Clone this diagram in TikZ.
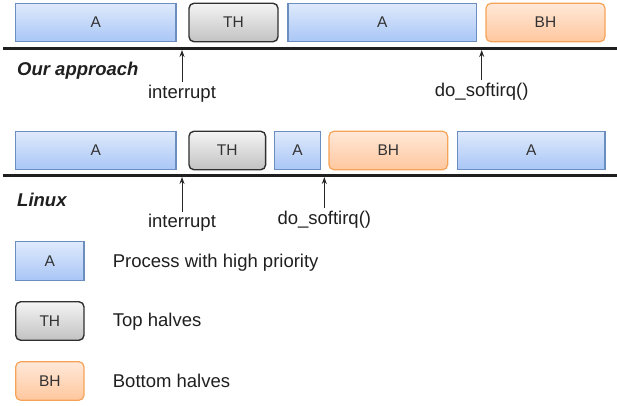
\documentclass[tikz,border=0pt]{standalone}
\usepackage{fontspec}
\setmainfont{Liberation Sans}
\usetikzlibrary{arrows.meta}
\definecolor{bluetop}{HTML}{DFEAFC}
\definecolor{bluebot}{HTML}{A9C6F6}
\definecolor{blueedge}{HTML}{6C8EBF}
\definecolor{graytop}{HTML}{F4F4F4}
\definecolor{graybot}{HTML}{C2C2C2}
\definecolor{grayedge}{HTML}{303030}
\definecolor{orgtop}{HTML}{FFE8D8}
\definecolor{orgbot}{HTML}{FFC79E}
\definecolor{orgedge}{HTML}{F5A357}
\definecolor{txt}{HTML}{333333}
\tikzset{
  boxbase/.style={inner sep=0pt, minimum height=38.5pt, font=\fontsize{15.5}{18}\selectfont, text=txt},
  abox/.style={boxbase, draw=blueedge, line width=1.2pt, top color=bluetop, bottom color=bluebot},
  thbox/.style={boxbase, draw=grayedge, line width=1.4pt, rounded corners=5pt, top color=graytop, bottom color=graybot},
  bhbox/.style={boxbase, draw=orgedge, line width=1.2pt, rounded corners=5pt, top color=orgtop, bottom color=orgbot},
  timeline/.style={line width=3pt, color=black!88},
  arr/.style={line width=1pt, -{Stealth[length=7pt,width=5pt]}, color=black!85},
  lbl/.style={font=\fontsize{18.5}{22}\selectfont, text=black!88, inner sep=2.5pt},
  ttl/.style={font=\fontsize{18.5}{22}\selectfont\bfseries\itshape, text=black!88, inner sep=0pt, anchor=west},
  leg/.style={font=\fontsize{18.5}{22}\selectfont, text=black!88, inner sep=0pt, anchor=west}
}
\begin{document}
\begin{tikzpicture}[x=1pt,y=-1pt]
\useasboundingbox (0,0) rectangle (617,405);
% top row
\node[abox, minimum width=160.3pt] (a1) at (95.85,22.5) {A};
\node[thbox, minimum width=89pt] (th1) at (233.5,22.5) {TH};
\node[abox, minimum width=188.7pt] (a2) at (382.3,22.5) {A};
\node[bhbox, minimum width=119pt] (bh1) at (545.5,22.5) {BH};
\coordinate (l1s) at (3,48.3);
\coordinate (l1e) at (617,48.3);
\draw[timeline] (l1s) -- (l1e);
\node[ttl] (our) at (17,71) {Our approach};
\coordinate (tip1) at (182,50);
\coordinate (tip2) at (481.7,50);
\node[lbl, anchor=north] (int1) at (182,82) {interrupt};
\node[lbl, anchor=north] (ds1) at (481.7,80) {do\_softirq()};
\draw[arr] (int1.north) -- (tip1);
\draw[arr] (ds1.north) -- (tip2);
% second row
\node[abox, minimum width=160.3pt] (a3) at (95.85,150.5) {A};
\node[thbox, minimum width=76.7pt] (th2) at (227.3,150.5) {TH};
\node[abox, minimum width=46.4pt] (a4) at (297.5,150.5) {A};
\node[bhbox, minimum width=118.7pt] (bh2) at (388.3,150.5) {BH};
\node[abox, minimum width=147.7pt] (a5) at (531.2,150.5) {A};
\coordinate (l2s) at (3,175);
\coordinate (l2e) at (617,175);
\draw[timeline] (l2s) -- (l2e);
\node[ttl] (lin) at (17,200) {Linux};
\coordinate (tip3) at (182,177);
\coordinate (tip4) at (324.3,177);
\node[lbl, anchor=north] (int2) at (182,211.7) {interrupt};
\node[lbl, anchor=north] (ds2) at (324.3,208) {do\_softirq()};
\draw[arr] (int2.north) -- (tip3);
\draw[arr] (ds2.north) -- (tip4);
% legend
\node[abox, minimum width=68.3pt] (la) at (49.85,261) {A};
\node[thbox, minimum width=68.3pt] (lt) at (49.85,321) {TH};
\node[bhbox, minimum width=68.3pt] (lb) at (49.85,381) {BH};
\node[leg] (lat) at (112.7,262.5) {Process with high priority};
\node[leg] (ltt) at (112.7,321.5) {Top halves};
\node[leg] (lbt) at (112.7,381) {Bottom halves};
\end{tikzpicture}
\end{document}
